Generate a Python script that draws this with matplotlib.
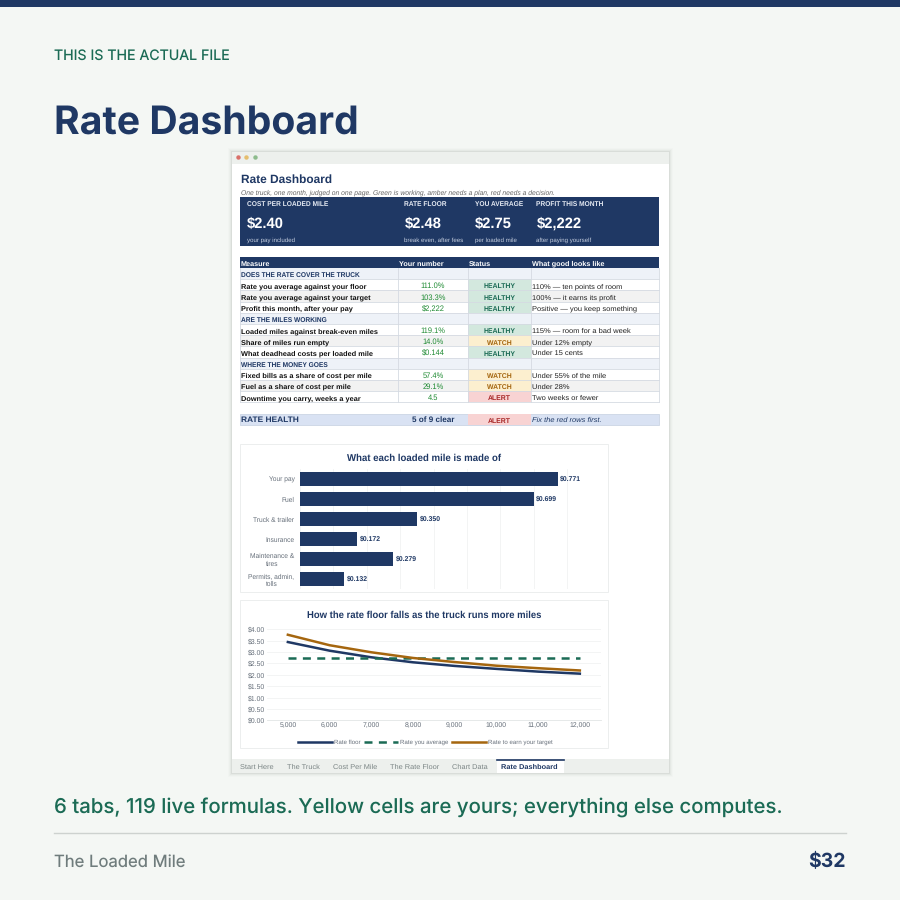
#!/usr/bin/env python3

import matplotlib
matplotlib.use("Agg")
import matplotlib.pyplot as plt
from matplotlib.patches import Rectangle

plt.rcParams["text.hinting"] = "no_hinting"

NAVY = "#1F3864"
GREEN = "#1B6B55"
AMBER = "#A5660F"
BG = "#F4F7F4"
SHEET = "Liberation Sans"
HEAD = "Inter"

# kpi band
kpi_titles = ["COST PER LOADED MILE", "RATE FLOOR", "YOU AVERAGE", "PROFIT THIS MONTH"]
kpi_values = ["$2.40", "$2.48", "$2.75", "$2,222"]
kpi_notes = ["your pay included", "break even, after fees", "per loaded mile", "after paying yourself"]
kpi_x = [247, 404.5, 475, 536.5]

# scorecard, one row per line, number/status empty means section row
table_header = ["Measure", "Your number", "Status", "What good looks like"]
measures = [
    "DOES THE RATE COVER THE TRUCK",
    "Rate you average against your floor",
    "Rate you average against your target",
    "Profit this month, after your pay",
    "ARE THE MILES WORKING",
    "Loaded miles against break-even miles",
    "Share of miles run empty",
    "What deadhead costs per loaded mile",
    "WHERE THE MONEY GOES",
    "Fixed bills as a share of cost per mile",
    "Fuel as a share of cost per mile",
    "Downtime you carry, weeks a year",
]
numbers = ["", "111.0%", "103.3%", "$2,222", "", "119.1%", "14.0%", "$0.144", "", "57.4%", "29.1%", "4.5"]
statuses = ["", "HEALTHY", "HEALTHY", "HEALTHY", "", "HEALTHY", "WATCH", "HEALTHY", "", "WATCH", "WATCH", "ALERT"]
targets = [
    "",
    "110% — ten points of room",
    "100% — it earns its profit",
    "Positive — you keep something",
    "",
    "115% — room for a bad week",
    "Under 12% empty",
    "Under 15 cents",
    "",
    "Under 55% of the mile",
    "Under 28%",
    "Two weeks or fewer",
]

status_fill = {"HEALTHY": "#D3E8DE", "WATCH": "#FCEFCF", "ALERT": "#F8D3D3"}
status_text = {"HEALTHY": "#1B6B55", "WATCH": "#A5660F", "ALERT": "#A82828"}

# bar chart
cost_labels = ["Your pay", "Fuel", "Truck & trailer", "Insurance", "Maintenance &\ntires", "Permits, admin,\ntolls"]
cost_values = [0.771, 0.699, 0.350, 0.172, 0.279, 0.132]

# line chart
miles = ["5,000", "6,000", "7,000", "8,000", "9,000", "10,000", "11,000", "12,000"]
rate_floor = [3.44, 3.06, 2.77, 2.55, 2.39, 2.26, 2.14, 2.05]
rate_average = [2.75, 2.75, 2.75, 2.75, 2.75, 2.75, 2.75, 2.75]
rate_target = [3.76, 3.30, 2.99, 2.74, 2.56, 2.40, 2.29, 2.19]

tabs = ["Start Here", "The Truck", "Cost Per Mile", "The Rate Floor", "Chart Data", "Rate Dashboard"]
tab_x = [240, 287, 333, 390, 452, 501]

W = 900.0


def rect(ax, x0, y0, x1, y1, color, **kw):
    ax.add_patch(Rectangle((x0, y0), x1 - x0, y1 - y0, facecolor=color, edgecolor=kw.pop("edgecolor", "none"),
                           linewidth=kw.pop("linewidth", 0), **kw))


def px_axes(fig, x0, y0, x1, y1):
    return fig.add_axes([x0 / W, 1 - y1 / W, (x1 - x0) / W, (y1 - y0) / W])


fig = plt.figure(figsize=(9, 9), dpi=100, facecolor=BG)
bg = fig.add_axes([0, 0, 1, 1])
bg.set_xlim(0, 900)
bg.set_ylim(900, 0)
bg.axis("off")

# page furniture
rect(bg, 0, 0, 900, 7, NAVY)
bg.text(54, 59.5, "THIS IS THE ACTUAL FILE", family=HEAD, fontsize=10.2, color=GREEN, va="baseline")
bg.text(54, 133.5, "Rate Dashboard", family=HEAD, fontsize=28.2, color=NAVY, va="baseline", weight="bold")
bg.text(54, 813.5, "6 tabs, 119 live formulas. Yellow cells are yours; everything else computes.",
        family=HEAD, fontsize=14.7, color=GREEN, va="baseline", weight="medium")
bg.plot([54, 846], [833, 833], color="#CDD2CF", lw=1)
bg.text(54, 866.5, "The Loaded Mile", family=HEAD, fontsize=12, color="#6F7C7C", va="baseline")
bg.text(846, 867, "$32", family=HEAD, fontsize=14, color=NAVY, va="baseline", ha="right", weight="bold")

# window with soft shadow
for pad, a in [(4, 0.015), (3, 0.025), (2, 0.04), (1, 0.07)]:
    rect(bg, 232 - pad, 152 - pad, 669 + pad, 773 + pad, "#3C4A44", alpha=a)
rect(bg, 232, 152, 669, 773, "white")
rect(bg, 232, 152, 669, 164, "#EDF0ED")
for cx, c in zip([238, 246, 255], ["#D9706A", "#E5BE6E", "#8DBB8C"]):
    bg.plot(cx, 157, "o", ms=3.2, color=c, mew=0)

bg.text(241, 182.7, "Rate Dashboard", family=SHEET, fontsize=8.55, weight="bold", color=NAVY, va="baseline")
bg.text(241, 194.7, "One truck, one month, judged on one page. Green is working, amber needs a plan, red needs a decision.",
        family=SHEET, fontsize=4.83, style="italic", color="#666666", va="baseline")

# kpi band
rect(bg, 240, 197, 659, 246, NAVY)
for i in range(4):
    bg.text(kpi_x[i], 206, kpi_titles[i], family=SHEET, fontsize=4.8, weight="bold", color="#E4E9F2", va="baseline")
    bg.text(kpi_x[i], 227.7, kpi_values[i], family=SHEET, fontsize=10.6, weight="bold", color="white", va="baseline")
    bg.text(kpi_x[i], 241.9, kpi_notes[i], family=SHEET, fontsize=4.4, color="#C5CEDF", va="baseline")

# scorecard table
cols = [240, 398, 468, 530.5, 659]
rect(bg, cols[0], 257, cols[4], 268, NAVY)
head_x = [240.5, 399, 469, 531.5]
for i in range(4):
    bg.text(head_x[i], 265.7, table_header[i], family=SHEET, fontsize=5.2, weight="bold", color="white", va="baseline")

row_h = (402.3 - 268) / len(measures)
for i in range(len(measures)):
    y0 = 268 + i * row_h
    y1 = y0 + row_h
    yb = y1 - 2.1
    section = statuses[i] == ""
    if section:
        rect(bg, cols[0], y0, cols[4], y1, "#EEF2F8")
        bg.text(241, yb, measures[i], family=SHEET, fontsize=4.75, weight="bold", color=NAVY, va="baseline")
    else:
        if i in (2, 6, 10):
            rect(bg, cols[0], y0, cols[4], y1, "#F2F2F2")
        rect(bg, cols[2], y0, cols[3], y1, status_fill[statuses[i]])
        bg.text(241, yb, measures[i], family=SHEET, fontsize=5.3, weight="bold", color="#111111", va="baseline")
        bg.text((cols[1] + cols[2]) / 2, yb, numbers[i], family=SHEET, fontsize=5.45, color="#1E8A32", va="baseline", ha="center")
        bg.text((cols[2] + cols[3]) / 2, yb + 0.2, statuses[i], family=SHEET, fontsize=4.95, weight="bold",
                color=status_text[statuses[i]], va="baseline", ha="center")
        bg.text(531.5, yb, targets[i], family=SHEET, fontsize=5.4, color="#222222", va="baseline")
    bg.plot([cols[0], cols[4]], [y1, y1], color="#D5DAE2", lw=0.6)
for cx in cols:
    bg.plot([cx, cx], [268, 402.3], color="#D5DAE2", lw=0.6)

# health row
rect(bg, cols[0], 413.5, cols[4], 425, "#D9E2F3", edgecolor="#C5CFE0", linewidth=0.5)
rect(bg, cols[2], 413.5, cols[3], 425, status_fill["ALERT"])
bg.text(241, 422.3, "RATE HEALTH", family=SHEET, fontsize=6.0, weight="bold", color=NAVY, va="baseline")
bg.text(433, 422.3, "5 of 9 clear", family=SHEET, fontsize=5.9, weight="bold", color=NAVY, va="baseline", ha="center")
bg.text((cols[2] + cols[3]) / 2, 422.7, "ALERT", family=SHEET, fontsize=4.95, weight="bold", color=status_text["ALERT"],
        va="baseline", ha="center")
bg.text(531.5, 422.3, "Fix the red rows first.", family=SHEET, fontsize=5.4, style="italic", color=NAVY, va="baseline")

# chart panels
for y0, y1 in [(444, 592), (600, 748)]:
    rect(bg, 240, y0, 608, y1, "white", edgecolor="#ECEEEE", linewidth=0.7)
bg.text(424.5, 461, "What each loaded mile is made of", family=SHEET, fontsize=6.9, weight="bold", color=NAVY,
        va="baseline", ha="center")
bg.text(424.5, 617.5, "How the rate floor falls as the truck runs more miles", family=SHEET, fontsize=6.85, weight="bold",
        color=NAVY, va="baseline", ha="center")

# bars
ax1 = px_axes(fig, 300, 469, 600.7, 589)
ax1.patch.set_alpha(0)
bars = ax1.barh(range(len(cost_values)), cost_values, height=0.67, color=NAVY)
ax1.bar_label(bars, labels=["$%.3f" % v for v in cost_values], padding=2, family=SHEET, fontsize=4.95,
              weight="bold", color=NAVY)
ax1.set_xlim(0, 0.9)
ax1.set_ylim(len(cost_values) - 0.5, -0.5)
ax1.set_yticks(range(len(cost_values)), cost_labels, family=SHEET, fontsize=4.75, color="#666F7A", linespacing=1.25,
               ha="right", multialignment="center")
ax1.tick_params(axis="y", length=0, pad=4)
ax1.set_xticks([0.1 * i for i in range(10)], [])
ax1.tick_params(axis="x", length=0)
ax1.grid(axis="x", color="#F1F3F3", lw=0.6)
ax1.set_axisbelow(True)
for s in ax1.spines.values():
    s.set_visible(False)

# lines
ax2 = px_axes(fig, 267, 629.3, 600.7, 720.3)
ax2.patch.set_alpha(0)
x = list(range(len(miles)))
ax2.plot(x, rate_floor, color=NAVY, lw=1.8, label="Rate floor")
ax2.plot(x, rate_average, color=GREEN, lw=1.8, ls=(0, (3.2, 2.55)), label="Rate you average")
ax2.plot(x, rate_target, color=AMBER, lw=1.8, label="Rate to earn your target")
ax2.set_xlim(-0.5, 7.5)
ax2.set_ylim(0, 4)
ax2.set_xticks(x, miles, family=SHEET, fontsize=4.95, color="#666F7A")
ax2.set_yticks([0.5 * i for i in range(9)], ["$%.2f" % (0.5 * i) for i in range(9)], family=SHEET, fontsize=4.95,
               color="#666F7A")
ax2.tick_params(length=0)
ax2.tick_params(axis="x", pad=1.5)
ax2.tick_params(axis="y", pad=1.5)
ax2.grid(axis="y", color="#F1F3F3", lw=0.6)
ax2.set_axisbelow(True)
for s in ax2.spines.values():
    s.set_visible(False)
ax2.spines["bottom"].set_visible(True)
ax2.spines["bottom"].set_color("#E2E5E5")
ax2.spines["bottom"].set_linewidth(0.6)
ax2.legend(loc="center", bbox_to_anchor=(0.475, -0.24), ncol=3, frameon=False, handlelength=5.5, handletextpad=0.4,
           columnspacing=0.55, prop={"family": SHEET, "size": 4.4}, labelcolor="#666F7A")

# tab strip
rect(bg, 232, 759, 669, 773, "#EDF0ED")
rect(bg, 497, 760, 564, 773, "white")
bg.plot([497, 564], [760, 760], color=NAVY, lw=1.2)
for i in range(len(tabs)):
    active = tabs[i] == "Rate Dashboard"
    bg.text(tab_x[i], 769, tabs[i], family=SHEET, fontsize=5.3, va="baseline", color=NAVY if active else "#7B8585",
            weight="bold" if active else "normal")

plt.savefig("out.png", dpi=100, facecolor=BG)
plt.close()
